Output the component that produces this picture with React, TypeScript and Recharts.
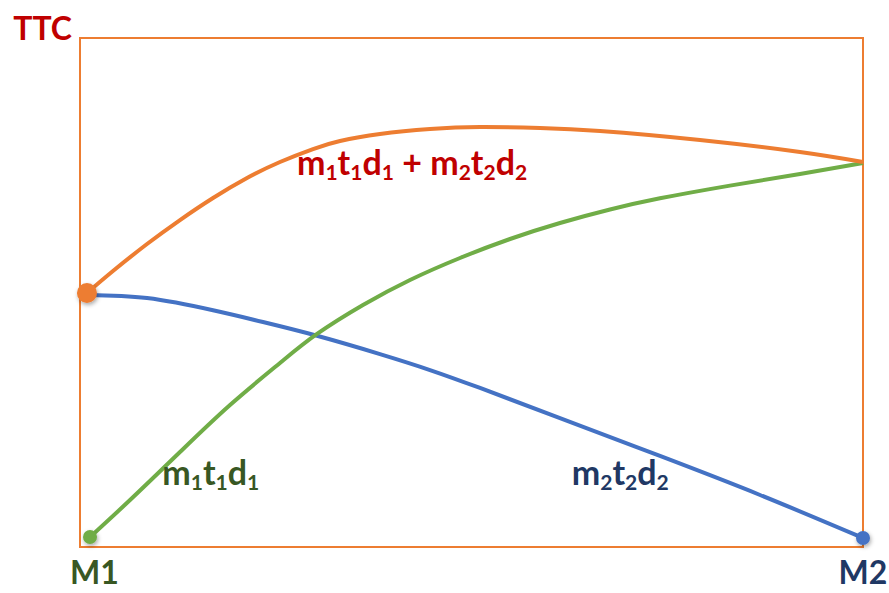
import React from 'react';
import { LineChart, Line, XAxis, YAxis, ReferenceArea, ReferenceDot } from 'recharts';

// x: position between M1 (0) and M2 (100), y: TTC (0..100)
const totalX = [0.89, 4.21, 8.56, 12.77, 16.99, 21.33, 25.54, 29.76, 33.21, 38.31, 44.7, 51.09, 58.75, 66.41, 79.18, 91.95, 100];
const totalY = [49.9, 54.22, 59.53, 64.24, 68.57, 72.5, 75.64, 78.19, 79.76, 81.14, 82.12, 82.51, 82.32, 81.73, 79.96, 77.6, 75.64];
const m1X = [1.28, 6.39, 12.77, 19.16, 25.54, 30.27, 36.14, 42.15, 48.53, 54.92, 61.3, 67.69, 74.07, 83.01, 91.95, 100];
const m1Y = [1.96, 9.23, 18.66, 27.9, 36.15, 41.85, 47.54, 52.46, 56.78, 60.51, 63.65, 66.3, 68.5, 71.0, 73.3, 75.44];
const m2X = [1.02, 8.56, 16.99, 23.37, 30.27, 38.31, 44.7, 51.09, 61.3, 74.07, 86.85, 100];
const m2Y = [49.51, 48.9, 46.5, 44.2, 41.5, 37.9, 34.77, 31.24, 25.34, 17.88, 10.22, 1.77];

const xTickLabels = ['M1', 'M2'];
const yTickLabel = 'TTC';

const ORANGE = '#ED7D31';
const GREEN = '#70AD47';
const BLUE = '#4472C4';
const FONT = 'Lato, "Open Sans", sans-serif';

const toPoints = (xs: number[], ys: number[]) => xs.map((x, i) => ({ x, y: ys[i] }));
const totalData = toPoints(totalX, totalY);
const m1Data = toPoints(m1X, m1Y);
const m2Data = toPoints(m2X, m2Y);

// label text pieces: [text, subscript?]
const totalLabel: [string, boolean][] = [
  ['m', false], ['1', true], ['t', false], ['1', true], ['d', false], ['1', true],
  [' + m', false], ['2', true], ['t', false], ['2', true], ['d', false], ['2', true],
];
const m1Label: [string, boolean][] = [['m', false], ['1', true], ['t', false], ['1', true], ['d', false], ['1', true]];
const m2Label: [string, boolean][] = [['m', false], ['2', true], ['t', false], ['2', true], ['d', false], ['2', true]];

const makeLabel = (parts: [string, boolean][], color: string) => (props: any) => {
  const vb = props.viewBox || {};
  const x = (vb.x ?? 0) + (vb.width ?? 0) / 2;
  const y = (vb.y ?? 0) + (vb.height ?? 0) / 2;
  let prevSub = false;
  return (
    <text x={x} y={y} fill={color} fontFamily={FONT} fontWeight={700} fontSize={34} textAnchor="start">
      {parts.map(([t, sub], i) => {
        const dy = sub && !prevSub ? 5 : !sub && prevSub ? -5 : 0;
        prevSub = sub;
        return (
          <tspan key={i} dy={dy} fontSize={sub ? 21 : 34}>
            {t}
          </tspan>
        );
      })}
    </text>
  );
};

const makeEndDot = (which: number, color: string, r: number, id: string) => (props: any) => {
  const { cx, cy, index } = props;
  if (index !== which) return <g key={`d${id}${index}`} />;
  return (
    <g key={`d${id}${index}`}>
      <defs>
        <filter id={id} x="-50%" y="-50%" width="200%" height="200%">
          <feDropShadow dx="1" dy="2" stdDeviation="2" floodColor="#000" floodOpacity="0.35" />
        </filter>
      </defs>
      <circle cx={cx} cy={cy} r={r} fill={color} filter={`url(#${id})`} />
    </g>
  );
};

const XTick = (props: any) => {
  const { x, y, payload } = props;
  const first = payload.value === 0;
  return (
    <text
      x={first ? x - 10 : x}
      y={y + 29}
      textAnchor={first ? 'start' : 'middle'}
      fill={first ? '#385723' : '#1F3864'}
      fontFamily={FONT}
      fontWeight={700}
      fontSize={32}
    >
      {first ? xTickLabels[0] : xTickLabels[1]}
    </text>
  );
};

const YTick = (props: any) => {
  const { x, y } = props;
  return (
    <text x={x} y={y + 2} textAnchor="end" fill="#C00000" fontFamily={FONT} fontWeight={700} fontSize={32}>
      {yTickLabel}
    </text>
  );
};

export default function App() {
  return (
    <div style={{ position: 'absolute', left: 0, top: 0, width: 889, height: 593, background: '#fff' }}>
      <LineChart width={889} height={593} margin={{ top: 38, right: 26, left: 0, bottom: 0 }}>
        <XAxis
          type="number"
          dataKey="x"
          domain={[0, 100]}
          ticks={[0, 100]}
          interval={0}
          height={46}
          axisLine={false}
          tickLine={false}
          tick={<XTick />}
        />
        <YAxis
          type="number"
          domain={[0, 100]}
          ticks={[100]}
          width={80}
          axisLine={false}
          tickLine={false}
          tick={<YTick />}
        />
        <ReferenceArea x1={0} x2={100} y1={0} y2={100} fill="none" fillOpacity={0} stroke={ORANGE} strokeWidth={2} />
        <Line
          data={m2Data}
          dataKey="y"
          type="natural"
          stroke={BLUE}
          strokeWidth={4}
          dot={makeEndDot(m2Data.length - 1, BLUE, 7, 'shBlue')}
          activeDot={false}
          isAnimationActive={false}
        />
        <Line
          data={m1Data}
          dataKey="y"
          type="natural"
          stroke={GREEN}
          strokeWidth={4}
          dot={makeEndDot(0, GREEN, 7, 'shGreen')}
          activeDot={false}
          isAnimationActive={false}
        />
        <Line
          data={totalData}
          dataKey="y"
          type="natural"
          stroke={ORANGE}
          strokeWidth={4}
          dot={makeEndDot(0, ORANGE, 10, 'shOrange')}
          activeDot={false}
          isAnimationActive={false}
        />
        <ReferenceDot x={27.7} y={73.1} r={1} fill="none" stroke="none" label={makeLabel(totalLabel, '#C00000')} />
        <ReferenceDot x={10.5} y={12.2} r={1} fill="none" stroke="none" label={makeLabel(m1Label, '#385723')} />
        <ReferenceDot x={62.8} y={12.2} r={1} fill="none" stroke="none" label={makeLabel(m2Label, '#203864')} />
      </LineChart>
    </div>
  );
}
